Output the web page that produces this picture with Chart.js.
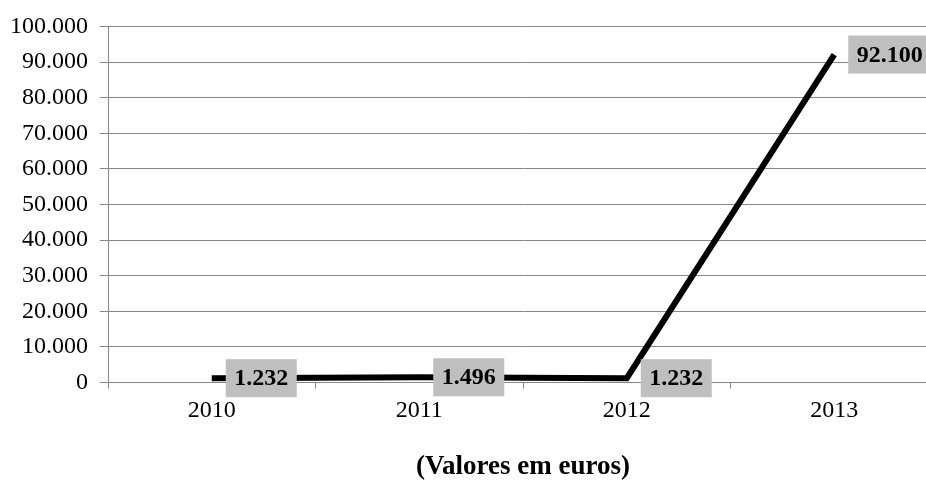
<!DOCTYPE html>
<html>
<head>
<meta charset="utf-8">
<script src="https://cdn.jsdelivr.net/npm/chart.js@4"></script>
<style>
  body { margin: 0; background: #fff; }
  #wrap { width: 926px; height: 485px; overflow: hidden; }
</style>
</head>
<body>
<!-- o gráfico original está cortado à direita: a tela é um pouco mais larga -->
<div id="wrap"><canvas id="valoresChart" width="938" height="485"></canvas></div>
<script>
// anos e valores (euros)
const anos = ['2010', '2011', '2012', '2013'];
const valores = [1232, 1496, 1232, 92100];
const yMin = 0, yMax = 100000, yStep = 10000;
const titulo = '(Valores em euros)';

const fmt = v => v.toLocaleString('de-DE');
const serif = '"Liberation Serif", "Times New Roman", serif';
const cinza = '#878787';

// etiquetas de dados com fundo cinzento, à direita de cada ponto
const etiquetas = {
    id: 'etiquetas',
    afterDatasetsDraw(chart) {
        const ctx = chart.ctx;
        const meta = chart.getDatasetMeta(0);
        ctx.save();
        ctx.font = 'bold 24px ' + serif;
        ctx.textBaseline = 'middle';
        meta.data.forEach((pt, i) => {
            const txt = fmt(valores[i]);
            const w = ctx.measureText(txt).width + 17;
            const h = 38;
            const x = pt.x + 14;
            const y = pt.y - h / 2;
            ctx.fillStyle = '#bfbfbf';
            ctx.fillRect(x, y, w, h);
            ctx.fillStyle = '#000';
            ctx.textAlign = 'left';
            ctx.fillText(txt, x + 8.5, pt.y + 1);
        });
        ctx.restore();
    }
};

new Chart(document.getElementById('valoresChart'), {
    type: 'line',
    data: {
        labels: anos,
        datasets: [{
            data: valores,
            borderColor: '#000',
            borderWidth: 6,
            pointRadius: 0,
            tension: 0,
            clip: false
        }]
    },
    options: {
        responsive: false,
        animation: false,
        layout: { padding: { top: 23, right: 0, left: 0, bottom: 0 } },
        plugins: {
            legend: { display: false },
            tooltip: { enabled: false },
            title: {
                display: true,
                position: 'bottom',
                fullSize: false,
                text: titulo,
                color: '#000',
                font: { family: serif, size: 27, weight: 'bold' },
                padding: { top: 0, bottom: 2 }
            }
        },
        scales: {
            x: {
                offset: true,
                grid: { offset: true, drawOnChartArea: false, color: cinza, tickLength: 6 },
                border: { color: cinza },
                ticks: { color: '#000', padding: 8, font: { family: serif, size: 24 } },
                afterFit(axis) { axis.height = 68; }
            },
            y: {
                min: yMin,
                max: yMax,
                grid: { color: cinza, tickLength: 8 },
                border: { color: cinza },
                ticks: {
                    stepSize: yStep,
                    color: '#000',
                    padding: 12,
                    font: { family: serif, size: 24 },
                    callback: v => fmt(v)
                },
                afterFit(axis) { axis.width = 108; }
            }
        }
    },
    plugins: [etiquetas]
});
</script>
</body>
</html>
